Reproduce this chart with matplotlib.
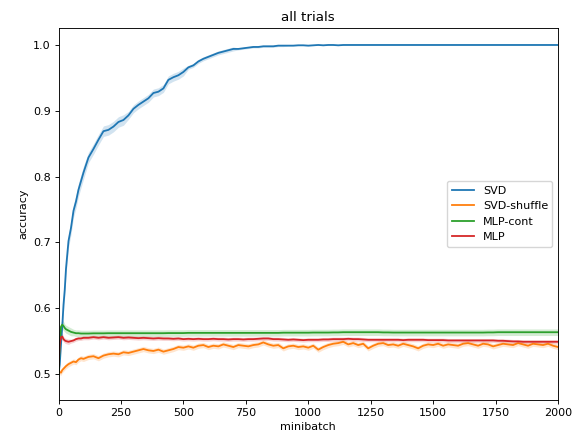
import numpy as np
import matplotlib
matplotlib.use("Agg")
import matplotlib.pyplot as plt

# minibatch index at which the averaged accuracies were sampled
steps = [0, 5, 10, 15, 20, 25, 30, 40, 50, 60, 70, 80, 90, 100] + list(range(120, 2001, 20))

svd = [0.500, 0.515, 0.545, 0.572, 0.605, 0.628, 0.660, 0.702, 0.722, 0.748, 0.762, 0.780, 0.793, 0.806,
       0.829, 0.842, 0.856, 0.869, 0.871, 0.876, 0.883, 0.886, 0.893, 0.903, 0.909, 0.914, 0.919, 0.927,
       0.929, 0.934, 0.947, 0.951, 0.954, 0.959, 0.966, 0.969, 0.975, 0.979, 0.982, 0.985, 0.988, 0.990,
       0.992, 0.994, 0.994, 0.995, 0.996, 0.997, 0.997, 0.998, 0.998, 0.998, 0.999, 0.999, 0.999, 0.999,
       0.9995, 0.9995, 0.999, 0.9995, 1.000, 0.9995, 1.000, 1.000, 0.9995, 1.000, 1.000, 1.000, 1.000,
       1.000, 1.000, 1.000, 1.000, 1.000, 1.000, 1.000, 1.000, 1.000, 1.000, 1.000, 1.000, 1.000, 1.000,
       1.000, 1.000, 1.000, 1.000, 1.000, 1.000, 1.000, 1.000, 1.000, 1.000, 1.000, 1.000, 1.000, 1.000,
       1.000, 1.000, 1.000, 1.000, 1.000, 1.000, 1.000, 1.000, 1.000, 1.000, 1.000, 1.000]

svd_shuffle = [0.500, 0.503, 0.502, 0.506, 0.508, 0.510, 0.512, 0.515, 0.517, 0.519, 0.518, 0.522, 0.524, 0.523,
               0.526, 0.527, 0.524, 0.528, 0.530, 0.531, 0.530, 0.533, 0.532, 0.534, 0.536, 0.538, 0.536, 0.535,
               0.537, 0.534, 0.536, 0.538, 0.541, 0.540, 0.542, 0.540, 0.543, 0.544, 0.541, 0.543, 0.542, 0.545,
               0.543, 0.541, 0.544, 0.543, 0.542, 0.544, 0.545, 0.548, 0.545, 0.543, 0.544, 0.539, 0.542, 0.543,
               0.541, 0.542, 0.540, 0.543, 0.537, 0.541, 0.544, 0.546, 0.547, 0.549, 0.545, 0.547, 0.544, 0.546,
               0.539, 0.543, 0.546, 0.547, 0.544, 0.545, 0.543, 0.546, 0.544, 0.542, 0.539, 0.543, 0.545, 0.544,
               0.546, 0.543, 0.545, 0.544, 0.543, 0.546, 0.547, 0.545, 0.543, 0.546, 0.545, 0.542, 0.544, 0.546,
               0.545, 0.544, 0.547, 0.545, 0.543, 0.546, 0.545, 0.544, 0.546, 0.543, 0.541]

mlp_cont = [0.500, 0.545, 0.572, 0.575, 0.573, 0.570, 0.568, 0.566, 0.564, 0.563, 0.562, 0.562, 0.5615, 0.5615,
            0.5615, 0.5618, 0.5618, 0.5618, 0.562, 0.562, 0.562, 0.562, 0.562, 0.562, 0.562, 0.562, 0.562, 0.562,
            0.562, 0.562, 0.5622, 0.5622, 0.5622, 0.5622, 0.5625, 0.5625, 0.5625, 0.5625, 0.5625, 0.5625, 0.5625,
            0.5625, 0.5625, 0.5625, 0.5625, 0.5625, 0.5625, 0.5625, 0.5625, 0.5625, 0.5625, 0.5625, 0.5625,
            0.5628, 0.5628, 0.5628, 0.5628, 0.5628, 0.5628, 0.563, 0.563, 0.563, 0.563, 0.5632, 0.5632, 0.5635,
            0.5635, 0.5635, 0.5635, 0.5635, 0.5635, 0.5635, 0.5635, 0.5632, 0.5632, 0.563, 0.563, 0.563, 0.563,
            0.563, 0.563, 0.563, 0.563, 0.563, 0.563, 0.563, 0.563, 0.563, 0.563, 0.563, 0.563, 0.563, 0.563,
            0.563, 0.5632, 0.5632, 0.5635, 0.5635, 0.5635, 0.5635, 0.5635, 0.5635, 0.5635, 0.5635, 0.5635,
            0.5635, 0.5635, 0.5635, 0.5635]

mlp = [0.512, 0.545, 0.556, 0.557, 0.553, 0.551, 0.550, 0.549, 0.550, 0.551, 0.553, 0.554, 0.554, 0.555,
       0.555, 0.556, 0.555, 0.556, 0.555, 0.5555, 0.556, 0.555, 0.5555, 0.555, 0.5545, 0.555, 0.5545, 0.554,
       0.5545, 0.554, 0.554, 0.5535, 0.554, 0.553, 0.5535, 0.553, 0.5535, 0.553, 0.553, 0.5535, 0.553, 0.553,
       0.5525, 0.553, 0.553, 0.5525, 0.553, 0.553, 0.5535, 0.554, 0.554, 0.553, 0.553, 0.5525, 0.552, 0.5525,
       0.552, 0.5515, 0.552, 0.552, 0.552, 0.5525, 0.5525, 0.553, 0.553, 0.553, 0.5535, 0.553, 0.553, 0.5525,
       0.552, 0.552, 0.552, 0.552, 0.552, 0.552, 0.552, 0.5515, 0.552, 0.552, 0.552, 0.552, 0.5515, 0.5515,
       0.5515, 0.5515, 0.551, 0.551, 0.551, 0.551, 0.551, 0.551, 0.551, 0.551, 0.551, 0.551, 0.5505, 0.5505,
       0.550, 0.5495, 0.5495, 0.549, 0.549, 0.549, 0.549, 0.549, 0.549, 0.549, 0.549]

# half width of the shaded band (spread over trials)
svd_err = [0.002] * 4 + [0.010] * 10 + [0.008] * 8 + [0.006] * 12 + [0.003] * 10 + [0.0015] * 10 + [0.0005] * 55
svd_shuffle_err = [0.004] * 109
mlp_cont_err = [0.003, 0.005, 0.007, 0.007, 0.007, 0.006, 0.006, 0.006, 0.006, 0.005, 0.005, 0.005, 0.005, 0.005] + [0.005] * 95
mlp_err = [0.006, 0.006, 0.005, 0.005, 0.004, 0.004, 0.004, 0.004, 0.003, 0.003, 0.003, 0.003, 0.003, 0.003] + [0.003] * 95

series = [
    ("SVD", svd, svd_err, "tab:blue"),
    ("SVD-shuffle", svd_shuffle, svd_shuffle_err, "tab:orange"),
    ("MLP-cont", mlp_cont, mlp_cont_err, "tab:green"),
    ("MLP", mlp, mlp_err, "tab:red"),
]

plt.rcParams.update({
    "font.size": 8,
    "axes.titlesize": 9.6,
    "axes.linewidth": 0.65,
    "lines.linewidth": 1.3,
    "xtick.major.size": 2.8,
    "ytick.major.size": 2.8,
    "xtick.major.width": 0.65,
    "ytick.major.width": 0.65,
    "xtick.major.pad": 2.8,
    "ytick.major.pad": 2.8,
    "legend.fontsize": 8,
})

fig = plt.figure(figsize=(5.72, 4.34), dpi=100)
ax = fig.add_axes([58.5 / 572, 34 / 434, 499.5 / 572, 372 / 434])

x = np.array(steps)
for name, vals, err, col in series:
    vals = np.array(vals)
    err = np.array(err)
    ax.plot(x, vals, color=col, label=name)
    ax.fill_between(x, vals - err, vals + err, color=col, alpha=0.2, linewidth=0)

ax.set_xlim(0, 2000)
ax.set_ylim(0.4605, 1.0258)
ax.set_xlabel("minibatch", labelpad=3)
ax.set_ylabel("accuracy", labelpad=3)
ax.set_title("all trials", pad=5)
ax.legend(loc="center right")

fig.savefig("out.png", dpi=100)
